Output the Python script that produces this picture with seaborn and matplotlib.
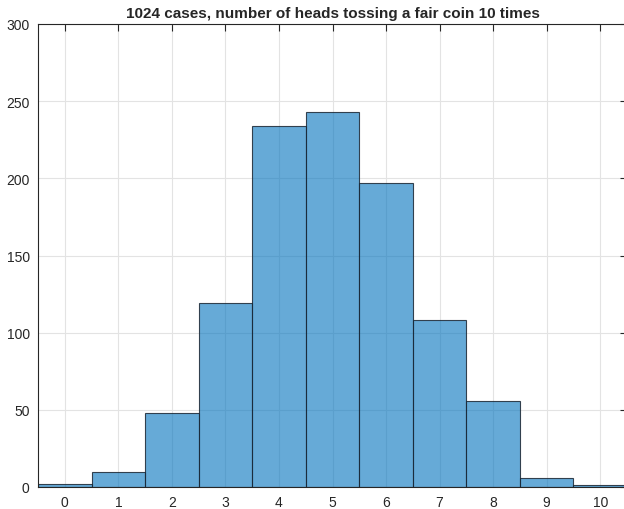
import matplotlib
matplotlib.use("Agg")
import matplotlib.pyplot as plt
import seaborn as sns
import pandas as pd

heads = [0, 1, 2, 3, 4, 5, 6, 7, 8, 9, 10]
counts = [2, 10, 48, 119, 234, 243, 197, 108, 56, 6, 1]
title = "1024 cases, number of heads tossing a fair coin 10 times"

sns.set_style("white")
plt.rcParams['font.family'] = ['Liberation Sans', 'DejaVu Sans']

df = pd.DataFrame({"heads": heads, "count": counts})

fig = plt.figure(figsize=(6.24, 5.10), dpi=100)
ax = fig.add_axes([38/624, 1-488/510, 589/624, 463/510])
sns.histplot(data=df, x="heads", weights="count", discrete=True, ax=ax,
             color="#0072BD", alpha=0.6, edgecolor="#000000", linewidth=0.8)
for p in ax.patches:
    p.set_edgecolor((0.1, 0.15, 0.2, 0.85))

ax.set_xlim(-0.5, 10.5)
ax.set_ylim(0, 300)
ax.set_xticks(heads)
ax.set_yticks([0, 50, 100, 150, 200, 250, 300])
ax.set_xlabel("")
ax.set_ylabel("")
ax.grid(True, color="#e3e3e3", linewidth=0.8)
ax.set_axisbelow(True)
ax.tick_params(direction="in", length=5, width=0.8, top=True, right=True,
               labelsize=10, colors="#262626", labelcolor="#262626", pad=6)
for s in ax.spines.values():
    s.set_color("#262626")
    s.set_linewidth(0.8)
    s.set_visible(True)
ax.set_title(title, fontsize=11, fontweight="bold", pad=5)
fig.savefig("out.png", dpi=100)
